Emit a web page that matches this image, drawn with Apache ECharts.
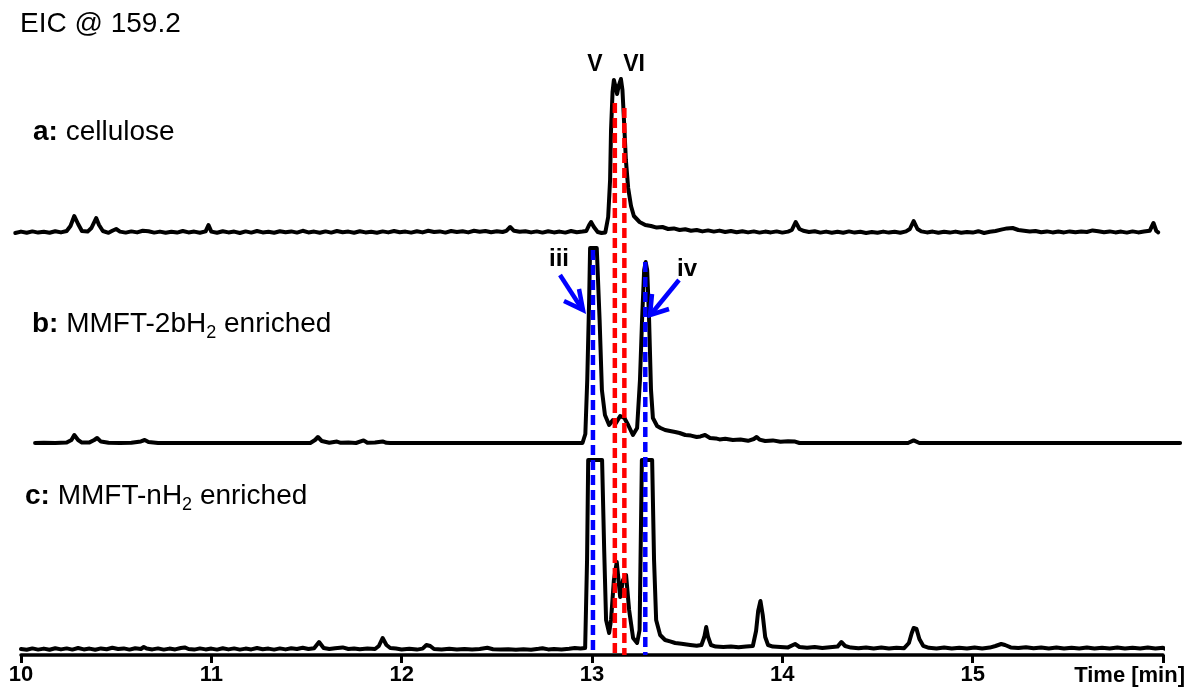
<!DOCTYPE html>
<html><head><meta charset="utf-8">
<script src="https://cdn.jsdelivr.net/npm/echarts@6/dist/echarts.min.js"></script>
<style>html,body{margin:0;padding:0;background:#fff}#c{width:1189px;height:695px}</style>
</head><body><div id="c"></div>
<script>
// ---- data (retention time [min], relative intensity) ----
const timeTicks = [10, 11, 12, 13, 14, 15, 16];

const traceA = [[9.97,3.5],[10.0,4.2],[10.03,3.6],[10.06,4.3],[10.09,3.7],[10.12,4.1],[10.15,3.6],[10.18,4.4],[10.21,3.8],[10.24,4.5],[10.26,7],[10.28,12],[10.30,8],[10.32,4.5],[10.35,4.2],[10.37,6],[10.395,11],[10.41,7.5],[10.43,4.5],[10.46,3.6],[10.48,4.6],[10.50,5.5],[10.52,4.2],[10.55,3.7],[10.58,4.3],[10.61,3.8],[10.64,4.6],[10.67,4.4],[10.70,3.7],[10.73,4.2],[10.76,3.6],[10.79,4.1],[10.82,3.7],[10.85,4.5],[10.88,3.8],[10.91,4.2],[10.94,3.6],[10.97,4.3],[10.985,7.5],[11.0,4.2],[11.03,3.6],[11.06,4.4],[11.09,3.8],[11.12,4.2],[11.15,3.5],[11.18,4.3],[11.21,3.7],[11.24,4.5],[11.27,3.8],[11.30,4.1],[11.33,3.6],[11.36,4.4],[11.39,3.9],[11.42,4.3],[11.45,3.7],[11.48,4.6],[11.51,3.8],[11.54,4.2],[11.57,3.6],[11.60,4.3],[11.63,3.7],[11.66,4.5],[11.69,3.9],[11.72,4.2],[11.75,3.6],[11.78,4.4],[11.81,3.8],[11.84,4.1],[11.87,3.6],[11.90,4.3],[11.93,3.8],[11.96,4.5],[11.99,3.9],[12.02,4.2],[12.05,3.7],[12.08,4.4],[12.11,3.8],[12.14,4.6],[12.17,4.0],[12.20,4.3],[12.23,3.7],[12.26,4.5],[12.29,4.0],[12.32,4.4],[12.35,3.8],[12.38,4.6],[12.41,4.1],[12.44,4.5],[12.47,3.9],[12.50,4.4],[12.53,4.0],[12.55,4.6],[12.57,6.5],[12.59,4.6],[12.62,4.1],[12.65,4.4],[12.68,3.8],[12.71,4.3],[12.74,3.7],[12.77,4.4],[12.80,3.8],[12.83,4.2],[12.86,3.7],[12.89,4.5],[12.92,3.9],[12.95,4.2],[12.97,4.5],[12.985,7.5],[12.995,9],[13.01,6.5],[13.03,4],[13.05,3.5],[13.07,3.8],[13.085,11.5],[13.095,30],[13.10,55],[13.108,74],[13.115,80],[13.125,76],[13.132,73],[13.14,77],[13.152,80.5],[13.16,75],[13.168,60],[13.178,40],[13.19,26],[13.205,17],[13.22,12],[13.25,9],[13.28,7.5],[13.31,7],[13.34,6.2],[13.37,6.5],[13.40,5.5],[13.43,5.8],[13.46,5.0],[13.49,5.4],[13.52,4.6],[13.55,5.0],[13.58,4.3],[13.61,4.8],[13.64,4.2],[13.67,4.7],[13.70,4.0],[13.73,4.5],[13.76,3.9],[13.79,4.4],[13.82,3.8],[13.85,4.3],[13.88,3.7],[13.91,4.2],[13.94,3.8],[13.97,4.3],[14.00,3.7],[14.03,4.2],[14.05,5],[14.07,9],[14.09,5.5],[14.11,4.6],[14.14,4.0],[14.17,4.4],[14.20,3.7],[14.23,4.2],[14.26,3.6],[14.29,4.1],[14.32,3.6],[14.35,4.3],[14.38,3.7],[14.41,4.1],[14.44,3.5],[14.47,4.0],[14.50,3.6],[14.53,4.2],[14.56,3.7],[14.59,4.1],[14.62,3.6],[14.65,4.3],[14.67,5.5],[14.69,9.5],[14.71,5.5],[14.73,4.3],[14.76,3.8],[14.79,4.2],[14.82,3.6],[14.85,4.1],[14.88,3.7],[14.91,4.2],[14.94,3.6],[14.97,4.0],[15.00,3.7],[15.03,4.4],[15.06,3.5],[15.09,4.1],[15.12,4.5],[15.15,5.2],[15.18,5.8],[15.21,6],[15.24,5.0],[15.27,4.6],[15.30,4.2],[15.33,4.5],[15.36,3.9],[15.39,4.3],[15.42,3.8],[15.45,4.2],[15.48,3.8],[15.51,4.3],[15.54,3.9],[15.57,4.2],[15.60,4.0],[15.63,4.8],[15.66,4.4],[15.69,3.9],[15.72,4.3],[15.75,3.8],[15.78,4.2],[15.81,3.7],[15.84,4.3],[15.87,3.8],[15.90,4.2],[15.93,4.6],[15.95,8.5],[15.965,4.5],[15.975,3.8]];

const traceB = [[10.074,3.5],[10.12,3.6],[10.18,3.5],[10.24,3.7],[10.265,5],[10.28,7.5],[10.30,5],[10.32,3.7],[10.36,3.8],[10.385,5],[10.40,6],[10.42,4.2],[10.46,3.6],[10.52,3.5],[10.58,3.6],[10.63,4.3],[10.65,5],[10.67,4.0],[10.72,3.5],[11.52,3.5],[11.545,5],[11.56,6.5],[11.58,4.5],[11.62,3.6],[11.66,4.2],[11.68,3.6],[11.72,3.8],[11.76,3.5],[11.80,4.8],[11.82,3.6],[11.86,3.7],[11.90,4.3],[11.92,3.6],[11.94,3.5],[12.95,3.5],[12.965,8],[12.975,35],[12.985,75],[12.99,101],[13.025,101],[13.04,65],[13.052,30],[13.068,17.5],[13.09,12.5],[13.11,15],[13.126,13.5],[13.148,17],[13.17,16],[13.19,12.5],[13.215,7.5],[13.237,11],[13.252,35],[13.263,65],[13.274,90],[13.282,94],[13.29,90],[13.30,65],[13.31,30],[13.32,16],[13.342,12],[13.36,11],[13.384,10],[13.41,9.5],[13.437,9],[13.46,8.5],[13.49,7.5],[13.52,7.2],[13.55,6.5],[13.57,6.8],[13.594,7.5],[13.62,6],[13.65,5.8],[13.67,5.3],[13.70,5.6],[13.74,5.0],[13.78,5.2],[13.82,4.6],[13.85,5.5],[13.865,6.5],[13.88,5.2],[13.91,4.5],[13.95,4.8],[13.99,4.1],[14.03,4.4],[14.067,4.2],[14.09,3.5],[14.66,3.5],[14.69,4.8],[14.72,3.5],[16.09,3.5]];

const traceC = [[10.0,3],[10.03,2.6],[10.06,3.3],[10.09,2.7],[10.12,3.2],[10.15,2.6],[10.18,3.4],[10.21,2.8],[10.24,3.3],[10.27,2.7],[10.30,3.5],[10.33,2.8],[10.36,3.2],[10.39,2.6],[10.42,3.3],[10.45,2.9],[10.48,3.6],[10.51,3.0],[10.54,3.3],[10.57,2.7],[10.60,3.4],[10.63,3.0],[10.645,4],[10.66,3.2],[10.69,2.8],[10.72,3.3],[10.75,2.7],[10.78,3.2],[10.81,2.8],[10.84,3.5],[10.86,3.8],[10.88,3.0],[10.91,2.7],[10.94,3.3],[10.97,2.8],[11.00,3.2],[11.03,2.7],[11.06,3.4],[11.09,2.8],[11.12,3.3],[11.15,2.7],[11.18,3.2],[11.21,2.8],[11.24,3.5],[11.27,2.9],[11.30,3.2],[11.33,2.7],[11.36,3.3],[11.39,2.8],[11.42,3.4],[11.45,3.0],[11.48,3.6],[11.51,3.0],[11.54,3.4],[11.566,6.5],[11.59,3.5],[11.62,3.0],[11.65,3.4],[11.69,3.8],[11.72,3.0],[11.75,3.3],[11.78,2.9],[11.82,3.2],[11.86,3.0],[11.88,4.5],[11.90,8.5],[11.92,5],[11.94,3.5],[11.97,3.2],[12.00,2.8],[12.04,3.1],[12.08,2.7],[12.11,3.2],[12.13,5],[12.15,4.5],[12.17,3.0],[12.21,2.8],[12.25,3.1],[12.29,2.7],[12.33,3.0],[12.37,2.7],[12.41,3.0],[12.45,3.6],[12.48,2.9],[12.52,2.7],[12.56,2.9],[12.60,2.6],[12.64,2.9],[12.68,2.6],[12.72,3.1],[12.74,3.4],[12.77,2.8],[12.80,3.0],[12.84,2.7],[12.88,3.1],[12.91,3.5],[12.94,3.3],[12.964,3.5],[12.974,47.5],[12.98,97.5],[13.053,97.5],[13.064,52.5],[13.074,17.5],[13.09,11],[13.10,17.5],[13.115,37.5],[13.13,46.5],[13.148,29],[13.163,37.5],[13.179,40],[13.195,22.5],[13.216,8.5],[13.237,6],[13.25,12.5],[13.262,97.5],[13.316,97.5],[13.326,47.5],[13.337,17.5],[13.358,10],[13.384,7.5],[13.41,6.8],[13.437,6],[13.47,5.6],[13.516,5],[13.55,4.6],[13.575,5],[13.59,9],[13.60,14],[13.61,9],[13.625,5],[13.65,4.2],[13.69,4.0],[13.73,4.3],[13.77,3.9],[13.81,4.2],[13.845,4.5],[13.862,12],[13.873,22],[13.885,27],[13.897,20],[13.91,9],[13.925,5],[13.95,4.2],[13.99,4.0],[14.03,3.8],[14.067,5.5],[14.09,4.0],[14.13,3.6],[14.17,4.0],[14.21,3.5],[14.25,3.9],[14.29,4.2],[14.31,6.5],[14.33,4.5],[14.36,3.7],[14.40,3.4],[14.44,3.8],[14.48,3.3],[14.52,3.7],[14.56,3.2],[14.60,3.6],[14.64,3.4],[14.665,6],[14.68,11],[14.69,13.5],[14.705,13],[14.72,8],[14.74,4.6],[14.77,3.6],[14.81,3.3],[14.85,3.7],[14.89,3.2],[14.93,3.6],[14.97,3.3],[15.01,3.8],[15.05,3.3],[15.09,3.7],[15.12,4.5],[15.15,5.5],[15.17,5.0],[15.20,3.8],[15.24,3.5],[15.28,3.9],[15.32,3.4],[15.36,3.8],[15.40,3.3],[15.44,3.7],[15.48,3.2],[15.52,3.6],[15.56,3.3],[15.60,3.7],[15.64,3.2],[15.68,3.6],[15.72,3.3],[15.76,3.7],[15.80,3.2],[15.84,3.6],[15.88,3.3],[15.92,3.7],[15.96,3.3],[16.0,3.6],[16.01,3.2]];

// marker lines: retention time and top height (overlay scale)
const redTimes = [13.12, 13.17];
const redTops = [552, 547];
const blueTimes = [13.005, 13.28];
const blueTops = [405, 393];

const titleText = 'EIC @ 159.2';
const axisTitle = 'Time [min]';

// ---- chart ----
const FONT = "'Liberation Sans', Arial, sans-serif";
const chart = echarts.init(document.getElementById('c'));
const L = 21, R = 26;
const S = (1189 - L - R) / 6;           // px per minute of the shared time scale
const xMin = [9.9, 9.9, 10, 10];
const xMax = [16.1, 16.1, 16, 16];
const grids = [
  {top: 40, height: 200},
  {top: 246, height: 204},
  {top: 455, bottom: 40},
  {top: 40, bottom: 40}
].map((g, i) => Object.assign(g, {left: L - (10 - xMin[i]) * S, right: R - (xMax[i] - 16) * S}));
const yMax = [100, 102, 100, 615];
const xAxes = grids.map((g, i) => ({
  gridIndex: i, type: 'value', min: xMin[i], max: xMax[i], interval: i === 2 ? 1 : undefined,
  show: i === 2,
  axisLine: {show: true, lineStyle: {color: '#000', width: 3.5}},
  axisTick: {show: true, length: 8, lineStyle: {color: '#000', width: 3}},
  axisLabel: {show: true, color: '#000', fontSize: 22, fontWeight: 'bold', fontFamily: FONT, margin: 9,
    formatter: v => (v === 16 ? '' : String(v))},
  splitLine: {show: false},
  name: i === 2 ? axisTitle : '',
  nameLocation: 'end', nameGap: 22,
  nameTextStyle: {color: '#000', fontSize: 22, fontWeight: 'bold', fontFamily: FONT, align: 'right', verticalAlign: 'top', padding: [10, 0, 0, 0]}
}));
const yAxes = grids.map((g, i) => ({gridIndex: i, type: 'value', min: 0, max: yMax[i], show: false, splitLine: {show: false}}));

const traceStyle = {color: '#000', width: 4, join: 'round', cap: 'round'};
const series = [traceA, traceB, traceC].map((d, i) => ({
  type: 'line', xAxisIndex: i, yAxisIndex: i, data: d, showSymbol: false, clip: false,
  lineStyle: traceStyle, z: 2, silent: true
}));
redTimes.forEach((t, k) => series.push({
  type: 'line', xAxisIndex: 3, yAxisIndex: 3, data: [[t, redTops[k]], [t, 0]], showSymbol: false, z: 5,
  lineStyle: {color: '#ff0000', width: 4.5, type: [10, 5]}
}));
blueTimes.forEach((t, k) => series.push({
  type: 'line', xAxisIndex: 3, yAxisIndex: 3, data: [[t, blueTops[k]], [t, 0]], showSymbol: false, z: 5,
  lineStyle: {color: '#0000ff', width: 4.5, type: [10, 5]}
}));

const labelRich = {
  b: {fontWeight: 'bold', fontSize: 28, fontFamily: FONT, lineHeight: 30, verticalAlign: 'top'},
  n: {fontSize: 28, fontFamily: FONT, lineHeight: 30, verticalAlign: 'top'},
  s: {fontSize: 18, fontFamily: FONT, lineHeight: 18, verticalAlign: 'top', padding: [14, 0, 0, 0]}
};
function txt(x, y, text, extra) {
  return {type: 'text', x: x, y: y, z: 10, style: Object.assign({
    text: text, fill: '#000', fontFamily: FONT, fontSize: 28, align: 'left', verticalAlign: 'middle', rich: labelRich
  }, extra || {})};
}
function arrow(points) {
  return {type: 'polyline', z: 10, shape: {points: points}, style: {stroke: '#0000ff', lineWidth: 4.5, fill: null, lineJoin: 'miter', lineCap: 'butt'}};
}
const graphic = [
  txt(20, 25, '{n|' + titleText + '}'),
  txt(33, 133, '{b|a:}{n| cellulose}'),
  txt(32, 325, '{b|b:}{n| MMFT-2bH}{s|2}{n| enriched}'),
  txt(25, 497, '{b|c:}{n| MMFT-nH}{s|2}{n| enriched}'),
  txt(595, 65, 'V', {rich: null, fontSize: 23, fontWeight: 'bold', align: 'center'}),
  txt(634, 65, 'VI', {rich: null, fontSize: 23, fontWeight: 'bold', align: 'center'}),
  txt(559, 259, 'iii', {rich: null, fontSize: 24, fontWeight: 'bold', align: 'center'}),
  txt(687, 269, 'iv', {rich: null, fontSize: 24, fontWeight: 'bold', align: 'center'}),
  arrow([[560, 275], [582, 309]]),
  arrow([[579, 289], [583, 310], [564, 301]]),
  arrow([[679, 280], [652, 313]]),
  arrow([[652, 294], [650, 315], [669, 309]])
];

chart.setOption({
  animation: false,
  backgroundColor: '#fff',
  grid: grids,
  xAxis: xAxes,
  yAxis: yAxes,
  series: series,
  graphic: graphic
});
</script>
</body></html>
